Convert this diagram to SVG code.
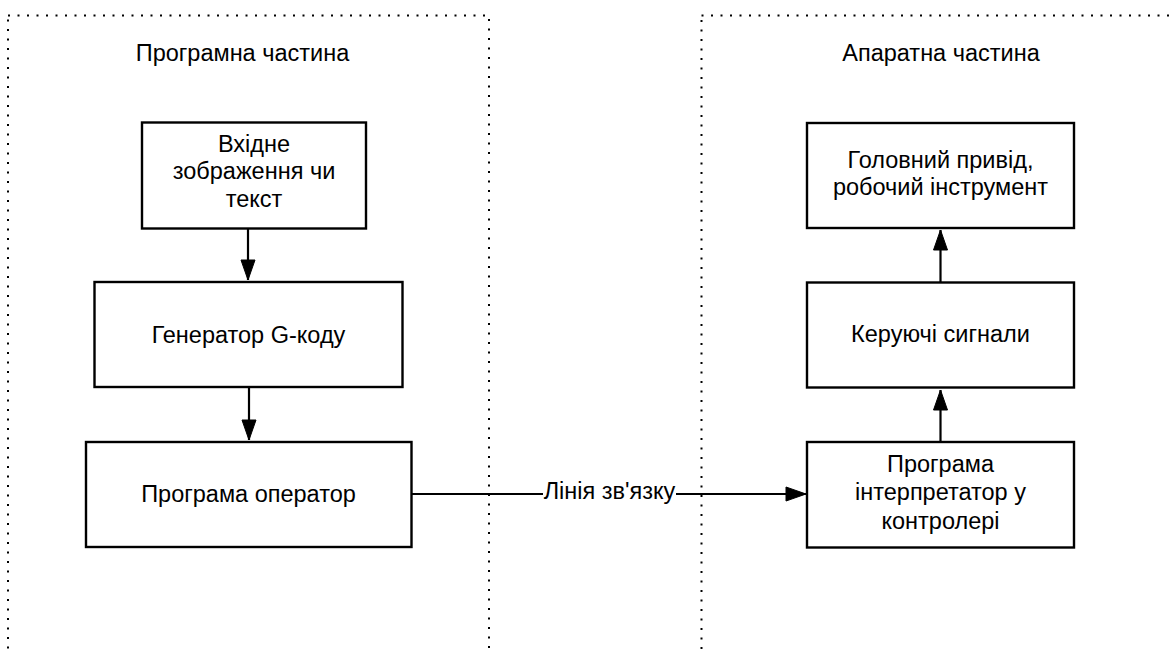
<svg xmlns="http://www.w3.org/2000/svg" width="1173" height="651" viewBox="0 0 1173 651">
  <style>
    .frame { fill: none; stroke: #000; stroke-width: 2; stroke-dasharray: 2 7.5; }
    .box { fill: #fff; stroke: #000; stroke-width: 2.4; }
    .lbl { font-family: "Liberation Sans", Arial, sans-serif; font-size: 23.5px; fill: #000; text-anchor: middle; }
    .edge { fill: none; stroke: #000; stroke-width: 2.2; }
  </style>
  <defs>
    <marker id="arrow" markerUnits="userSpaceOnUse" markerWidth="22" markerHeight="16" refX="21" refY="8" orient="auto">
      <path d="M1,1 L21,8 L1,15 z" fill="#000" stroke="#000" stroke-width="1"/>
    </marker>
  </defs>
  <rect width="1173" height="651" fill="#fff"/>

  <!-- software / hardware regions -->
  <g id="software-part">
    <rect class="frame" x="8" y="15.5" width="481" height="700"/>
    <text class="lbl" x="242.5" y="61">Програмна частина</text>
  </g>
  <g id="hardware-part">
    <rect class="frame" x="701.5" y="15.5" width="600" height="700"/>
    <text class="lbl" x="941" y="61">Апаратна частина</text>
  </g>

  <!-- connectors -->
  <g id="connectors">
    <path class="edge" d="M248,228 L248,280" marker-end="url(#arrow)"/>
    <path class="edge" d="M249,387 L249,440" marker-end="url(#arrow)"/>
    <path class="edge" d="M940.5,441 L940.5,390" marker-end="url(#arrow)"/>
    <path class="edge" d="M940.5,282 L940.5,230" marker-end="url(#arrow)"/>
    <path class="edge" d="M411,494 L806,494" marker-end="url(#arrow)"/>
    <rect x="543" y="480" width="133" height="26" fill="#fff"/>
    <text class="lbl" x="609.5" y="498.5">Лінія зв'язку</text>
  </g>

  <!-- nodes -->
  <g id="input-image">
    <rect class="box" x="142" y="122.5" width="224" height="106"/>
    <text class="lbl" x="254" y="152">Вхідне</text>
    <text class="lbl" x="254" y="179">зображення чи</text>
    <text class="lbl" x="254" y="206.5">текст</text>
  </g>
  <g id="gcode-generator">
    <rect class="box" x="94.5" y="282" width="308" height="105"/>
    <text class="lbl" x="248.5" y="343">Генератор G-коду</text>
  </g>
  <g id="operator-program">
    <rect class="box" x="86" y="442" width="325.5" height="105"/>
    <text class="lbl" x="248.5" y="501.5">Програма оператор</text>
  </g>
  <g id="main-drive">
    <rect class="box" x="807" y="123" width="267" height="105"/>
    <text class="lbl" x="940.5" y="168">Головний привід,</text>
    <text class="lbl" x="940.5" y="195">робочий інструмент</text>
  </g>
  <g id="control-signals">
    <rect class="box" x="807" y="282.5" width="267" height="105"/>
    <text class="lbl" x="940.5" y="342">Керуючі сигнали</text>
  </g>
  <g id="controller-interpreter">
    <rect class="box" x="807" y="442" width="267" height="105.5"/>
    <text class="lbl" x="940.5" y="472">Програма</text>
    <text class="lbl" x="940.5" y="500">інтерпретатор у</text>
    <text class="lbl" x="940.5" y="528.5">контролері</text>
  </g>
</svg>
